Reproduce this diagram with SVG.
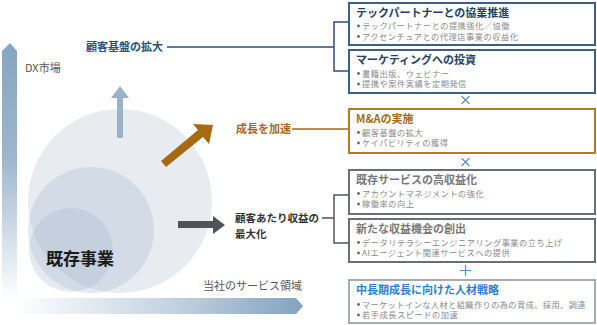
<svg xmlns="http://www.w3.org/2000/svg" width="597" height="325" viewBox="0 0 597 325">
<defs>
<linearGradient id="gv" x1="0" y1="43" x2="0" y2="300" gradientUnits="userSpaceOnUse">
<stop offset="0" stop-color="#86a5c3"/>
<stop offset="0.45" stop-color="#9db6ce"/>
<stop offset="1" stop-color="#ffffff"/>
</linearGradient>
<linearGradient id="gh" x1="15" y1="0" x2="303" y2="0" gradientUnits="userSpaceOnUse">
<stop offset="0" stop-color="#ffffff"/>
<stop offset="0.55" stop-color="#c3d2e0"/>
<stop offset="1" stop-color="#82a2c1"/>
</linearGradient>
</defs>
<style>
.jp{font-family:"Noto Sans CJK JP","Noto Sans",sans-serif}
.t{font-size:11px;font-weight:bold}
.b{font-size:8.2px;fill:#8a8a8a;letter-spacing:0.55px}
.box{fill:#fff;stroke-width:2}
.dot{fill:#666}
</style>
<g id="axes">
<path d="M2 51 L10 43 L17 51 L17 300 L2 300 Z" fill="url(#gv)"/>
<path d="M15 298 L296 298 L303 306 L296 314 L15 314 Z" fill="url(#gh)"/>
<text class="jp" x="25" y="72" font-size="11" fill="#555">DX市場</text>
<text class="jp" x="203" y="290" font-size="11" fill="#555">当社のサービス領域</text>
</g>
<g id="circles">
<circle cx="120" cy="201" r="92" fill="#e8ecf1"/>
<circle cx="91" cy="230" r="63" fill="#9fb4ca" fill-opacity="0.28"/>
<circle cx="71" cy="250" r="42" fill="#9fb4ca" fill-opacity="0.28"/>
<text class="jp" x="46" y="265" font-size="17" font-weight="bold" fill="#1a1a1a">既存事業</text>
</g>
<g id="arrows">
<path d="M117 138 L117 98 L111 98 L120 86 L129 98 L123 98 L123 138 Z" fill="#9eb2c7"/>
<path d="M166 167 L161 161 L198 130 L193 124 L213 125 L209 144 L203 137 Z" fill="#a66a12"/>
<path d="M178 221 L213 221 L213 216 L225 225 L213 234 L213 228 L178 228 Z" fill="#4f5459"/>
</g>
<g id="labels">
<text class="jp" x="86" y="51" font-size="11" font-weight="bold" fill="#2b4f7a">顧客基盤の拡大</text>
<text class="jp" x="236" y="133" font-size="11" font-weight="bold" fill="#a66a12">成長を加速</text>
<text class="jp" x="235" y="222" font-size="10.5" font-weight="bold" fill="#333">顧客あたり収益の</text>
<text class="jp" x="235" y="238" font-size="10.5" font-weight="bold" fill="#333">最大化</text>
</g>
<g id="connectors" fill="none" stroke-width="1.5">
<path d="M167 47 L334 47 M349 22 L334 22 L334 71 L349 71" stroke="#2b4f7a"/>
<path d="M292 129 L349 129" stroke="#a66a12"/>
<path d="M322 218 L334 218 M349 195 L334 195 L334 243 L349 243" stroke="#555"/>
</g>
<g id="box1">
<rect class="box" x="349" y="3" width="246" height="42" stroke="#3d5f85"/>
<text class="jp t" x="356" y="16.5" fill="#1f3f66">テックパートナーとの協業推進</text>
<circle class="dot" cx="358.5" cy="26" r="1.4"/><text class="jp b" x="362" y="29.2">テックパートナーとの提携強化／協働</text>
<circle class="dot" cx="358.5" cy="36.5" r="1.4"/><text class="jp b" x="362" y="39.7">アクセンチュアとの代理店事業の収益化</text>
</g>
<g id="box2">
<rect class="box" x="349" y="50" width="246" height="43" stroke="#3d5f85"/>
<text class="jp t" x="356" y="63.5" fill="#1f3f66">マーケティングへの投資</text>
<circle class="dot" cx="358.5" cy="73.5" r="1.4"/><text class="jp b" x="362" y="76.7">書籍出版、ウェビナー</text>
<circle class="dot" cx="358.5" cy="84" r="1.4"/><text class="jp b" x="362" y="87.2">提携や案件実績を定期発信</text>
</g>
<g id="op1"><path d="M461.5 96 L469.5 104 M469.5 96 L461.5 104" stroke="#5b8ec9" stroke-width="1.2"/></g>
<g id="box3">
<rect class="box" x="349" y="109" width="246" height="44" stroke="#b77a22"/>
<text class="jp t" x="356" y="122.5" fill="#a66a12">M&amp;Aの実施</text>
<circle class="dot" cx="358.5" cy="132.5" r="1.4"/><text class="jp b" x="362" y="135.7">顧客基盤の拡大</text>
<circle class="dot" cx="358.5" cy="143" r="1.4"/><text class="jp b" x="362" y="146.2">ケイパビリティの獲得</text>
</g>
<g id="op2"><path d="M461.5 158 L469.5 166 M469.5 158 L461.5 166" stroke="#5b8ec9" stroke-width="1.2"/></g>
<g id="box4">
<rect class="box" x="349" y="170" width="246" height="44" stroke="#6b6f73"/>
<text class="jp t" x="356" y="183.5" fill="#777">既存サービスの高収益化</text>
<circle class="dot" cx="358.5" cy="193.5" r="1.4"/><text class="jp b" x="362" y="196.7">アカウントマネジメントの強化</text>
<circle class="dot" cx="358.5" cy="204" r="1.4"/><text class="jp b" x="362" y="207.2">稼働率の向上</text>
</g>
<g id="box5">
<rect class="box" x="349" y="219" width="246" height="43" stroke="#6b6f73"/>
<text class="jp t" x="356" y="232.5" fill="#777">新たな収益機会の創出</text>
<circle class="dot" cx="358.5" cy="242.5" r="1.4"/><text class="jp b" x="362" y="245.7">データリテラシーエンジニアリング事業の立ち上げ</text>
<circle class="dot" cx="358.5" cy="253" r="1.4"/><text class="jp b" x="362" y="256.2">AIエージェント関連サービスへの提供</text>
</g>
<g id="op3"><path d="M465.5 265 L465.5 276 M460 270.5 L471 270.5" stroke="#5b8ec9" stroke-width="1.2"/></g>
<g id="box6">
<rect class="box" x="349" y="280" width="246" height="43" stroke="#a9acaf"/>
<text class="jp t" x="356" y="293.5" fill="#2a7fd4">中長期成長に向けた人材戦略</text>
<circle class="dot" cx="358.5" cy="304.5" r="1.4"/><text class="jp b" x="362" y="307.7" textLength="224" lengthAdjust="spacing">マーケットインな人材と組織作りの為の育成、採用、調達</text>
<circle class="dot" cx="358.5" cy="315" r="1.4"/><text class="jp b" x="362" y="318.2">若手成長スピードの加速</text>
</g>
</svg>
